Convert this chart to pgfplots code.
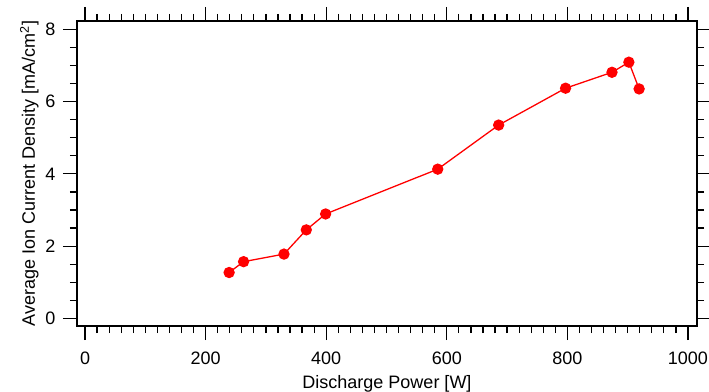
\documentclass[border=0pt]{standalone}
\usepackage{fontspec}
\setmainfont{Liberation Sans}
\usepackage{pgfplots}
\pgfplotsset{compat=1.18}
\begin{document}
\begin{tikzpicture}
\begin{axis}[
  at={(0,0)}, anchor=south west,
  scale only axis,
  width=620bp, height=305bp,
  xmin=-13.3, xmax=1015,
  ymin=-0.21, ymax=8.23,
  xtick={0,200,...,1000},
  ytick={0,2,...,8},
  minor x tick num=9,
  minor y tick num=3,
  tick align=outside,
  xtick pos=both, ytick pos=both,
  xticklabel pos=bottom, yticklabel pos=left,
  major tick length=14bp,
  minor tick length=7bp,
  axis line style={line width=1.4bp},
  every tick/.style={black, line width=1.2bp},
  /pgf/number format/assume math mode=true,
  /pgf/number format/1000 sep={},
  ticklabel style={font=\fontsize{18bp}{21bp}\selectfont},
  xticklabel style={yshift=-8bp},
  yticklabel style={xshift=-4bp},
  xlabel={Discharge Power [W]},
  ylabel={Average Ion Current Density [mA/cm\textsuperscript{2}]},
  every axis x label/.style={at={(rel axis cs:0.5,0)}, anchor=base, yshift=-62bp, font=\fontsize{18bp}{21bp}\selectfont},
  every axis y label/.style={at={(rel axis cs:0,0.5)}, rotate=90, anchor=base, yshift=42bp, font=\fontsize{18bp}{21bp}\selectfont},
]
\addplot[red, line width=1.3bp, mark=*, mark size=5bp, mark options={fill=red, draw=red}]
coordinates {
(239,1.27) (263,1.57) (330,1.78) (367,2.45) (399,2.89) (585,4.13)
(686,5.35) (797,6.37) (874,6.81) (902,7.09) (919,6.35)
};
\end{axis}
\pgfresetboundingbox
\path[use as bounding box] (-77bp,-66bp) rectangle (632bp,326bp);
\end{tikzpicture}
\end{document}
